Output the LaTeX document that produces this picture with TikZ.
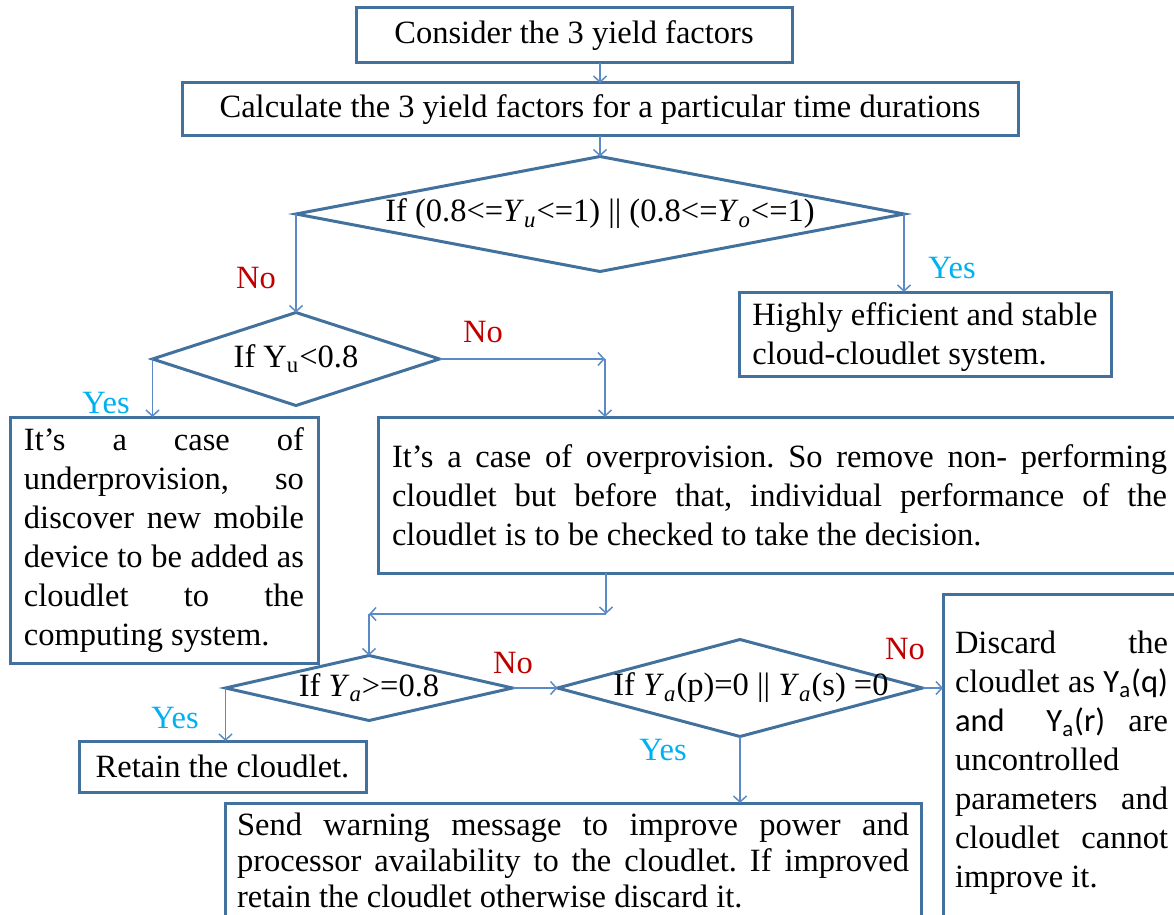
\documentclass[tikz,border=0pt]{standalone}
\usepackage{fontspec}
\setmainfont{Liberation Serif}
\newfontfamily\calfont{Carlito}
\usetikzlibrary{arrows.meta,shapes.geometric}
\definecolor{boxline}{HTML}{41719C}
\definecolor{linkblue}{HTML}{5B8BC7}
\definecolor{yescyan}{HTML}{00B0F0}
\definecolor{nored}{HTML}{C00000}
\newcommand{\Ysub}[1]{\textit{Y}\textsubscript{\textit{#1}}}
\tikzset{
  flowarr/.style={-{Straight Barb[length=3pt,width=6.5pt]},line width=0.75pt,color=linkblue},
  procbox/.style={draw=boxline,line width=1.5pt,inner sep=0pt,outer sep=0pt,align=center},
  textcard/.style={procbox,anchor=north west,align=justify,inner xsep=6pt},
  decision/.style={diamond,draw=boxline,line width=1.5pt,inner sep=0pt,outer sep=0pt},
  yestag/.style={text=yescyan,inner sep=0pt},
  notag/.style={text=nored,inner sep=0pt}
}

\begin{document}
\begin{tikzpicture}[x=0.5pt,y=-0.5pt,font={\fontsize{16.25pt}{19.5pt}\selectfont\frenchspacing\hyphenpenalty=10000\tolerance=10000}]
  \useasboundingbox (0,0) rectangle (1174,915);

  \node[procbox,minimum width=218pt,minimum height=27.5pt] (consider) at (574,35.5) {Consider the 3 yield factors};
  \node[procbox,minimum width=418pt,minimum height=26.5pt] (calc) at (600,109.5) {Calculate the 3 yield factors for a particular time durations};
  \node[decision,minimum width=304pt,minimum height=57.5pt,
    label={center:{If (0.8<=\Ysub{u}<=1) || (0.8<=\Ysub{o}<=1)}}] (bothok) at (600,214) {};
  \node[procbox,minimum width=186pt,minimum height=42pt,align=left,text depth=0pt] (stable) at (925,334)
    {Highly efficient and stable\\cloud-cloudlet system.};
  \node[decision,minimum width=143.5pt,minimum height=46.5pt,
    label={center:{If Y\textsubscript{u}<0.8}}] (under) at (296,359) {};
  \node[textcard,text width=140pt,inner xsep=7pt,minimum height=123pt] (addcl) at (10,417)
    {It’s a case of\linebreak underprovision, so\linebreak discover new mobile\linebreak device to be added as\linebreak cloudlet to the\linebreak computing system.};
  \node[textcard,text width=387.5pt,inner xsep=7pt,minimum height=78pt] (overprov) at (378,417)
    {It’s a case of overprovision. So remove non- performing\linebreak cloudlet but before that, individual performance of the\linebreak cloudlet is to be checked to take the decision.};
  \coordinate (nocorner) at (605,359);
  \coordinate (bendr) at (606,614);
  \coordinate (bendl) at (369,614);
  \node[decision,minimum width=143.5pt,minimum height=32.5pt,
    label={center:{If \Ysub{a}>=0.8}}] (avail) at (369,688) {};
  \node[decision,minimum width=182.5pt,minimum height=48.5pt,
    label={[xshift=5.5pt]center:{If \Ysub{a}(p)=0 || \Ysub{a}(s) =0}}] (pscheck) at (740,688) {};
  \node[procbox,minimum width=143.5pt,minimum height=25.5pt] (retain) at (222.5,766.5) {Retain the cloudlet.};
  \node[textcard,text width=336pt,inner xsep=6pt,inner ysep=5pt,
    font={\fontsize{16.25pt}{18pt}\selectfont\frenchspacing\hyphenpenalty=10000\tolerance=10000}] (warn) at (225,803)
    {Send warning message to improve power and\linebreak processor availability to the cloudlet. If improved\linebreak retain the cloudlet otherwise discard it.};
  \node[textcard,text width=106.5pt,inner ysep=18.5pt] (discard) at (943,594)
    {Discard the\linebreak cloudlet as {\calfont Y\textsubscript{a}(q)}\linebreak {\calfont and\ \ Y\textsubscript{a}(r)} are\linebreak uncontrolled\linebreak parameters and\linebreak cloudlet cannot\linebreak improve it.};

  \node[notag] (no1) at (256,278) {No};
  \node[yestag] (yes1) at (952,268) {Yes};
  \node[yestag] (yes2) at (106,403) {Yes};
  \node[notag] (no2) at (483,332) {No};
  \node[notag] (no3) at (513,663) {No};
  \node[yestag] (yes3) at (175,718) {Yes};
  \node[notag] (no4) at (905,649) {No};
  \node[yestag] (yes4) at (663,750) {Yes};

  \draw[flowarr] (consider.south -| calc.north) -- (calc.north);
  \draw[flowarr] (calc.south) -- (bothok.north);
  \draw[flowarr] (bothok.west) -| (under.north);
  \draw[flowarr] (bothok.east) -- (bothok.east |- stable.north);
  \draw[flowarr] (under.west) -- (under.west |- addcl.north);
  \draw[flowarr] (under.east) -- (nocorner);
  \draw[flowarr] (nocorner) -- (nocorner |- overprov.north);
  \draw[flowarr] (bendr |- overprov.south) -- (bendr);
  \draw[flowarr] (bendr) -- (bendl);
  \draw[flowarr] (bendl) -- (avail.north);
  \draw[flowarr] (avail.west) -- (avail.west |- retain.north);
  \draw[flowarr] (avail.east) -- (pscheck.west);
  \draw[flowarr] (pscheck.east) -- (pscheck.east -| discard.west);
  \draw[flowarr] (pscheck.south) -- (pscheck.south |- warn.north);
\end{tikzpicture}
\end{document}
